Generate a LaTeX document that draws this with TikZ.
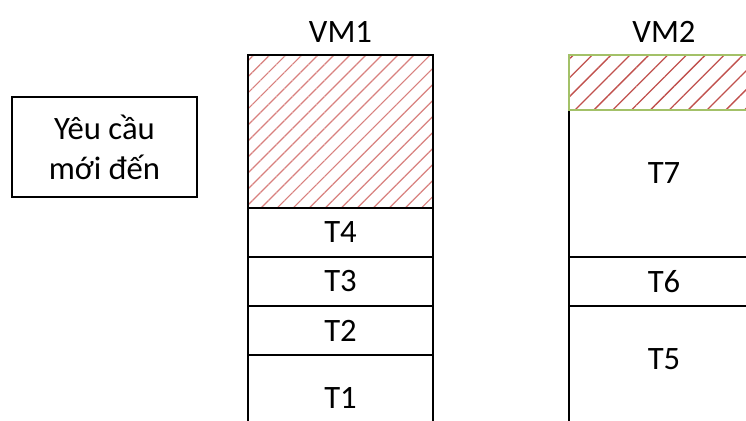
\documentclass[tikz,border=0pt]{standalone}
\usepackage{fontspec}
\setmainfont{Carlito}
\usetikzlibrary{positioning,patterns.meta}
\definecolor{hatch}{RGB}{192,80,77}
\definecolor{hatchsoft}{RGB}{216,128,126}
\definecolor{freeline}{RGB}{163,193,104}

\begin{document}
\begin{tikzpicture}[x=0.75pt,y=-0.75pt,node distance=0pt,
	font=\fontsize{24.5pt}{30pt}\selectfont,
	cell/.style={draw,line width=1.5pt,outer sep=0pt,inner sep=0pt},
	task1/.style={cell,minimum width=138.75pt},
	task2/.style={cell,minimum width=142.5pt},
	title/.style={inner sep=0pt,outer sep=0pt}]
\useasboundingbox (0,0) rectangle (746,421);
\clip (0,0) rectangle (746,421);

% request box
\node[draw,line width=1.5pt,minimum width=138.75pt,minimum height=75pt,align=center]	(req)	at (104.5,147)	{Yêu cầu\\mới đến};

% VM1, stacked from the bottom up
\node[task1,minimum height=63.75pt,anchor=north west]		(t_1)	at (248,355)		{T1};
\node[task1,minimum height=36.75pt]						(t_2)	[above=of t_1]		{T2};
\node[task1,minimum height=36.75pt]						(t_3)	[above=of t_2]		{T3};
\node[task1,minimum height=36.75pt]						(t_4)	[above=of t_3]		{T4};
\node[task1,minimum height=114.75pt,pattern={Lines[angle=45,distance=8.5pt,line width=0.9pt]},pattern color=hatchsoft]	(f_1)	[above=of t_4]	{};
\node[title]												(vm_1)	[above=9.4pt of f_1]	{VM1};

% VM2, runs off the right edge
\node[task2,minimum height=88.5pt,text depth=9pt,anchor=north west]	(t_5)	at (569,306)		{T5};
\node[task2,minimum height=36.75pt]						(t_6)	[above=of t_5]		{T6};
\node[task2,minimum height=110.25pt,text depth=16pt]	(t_7)	[above=of t_6]		{T7};
\node[task2,minimum height=41.25pt,draw=freeline,pattern={Lines[angle=45,distance=10pt,line width=1pt]},pattern color=hatch]	(f_2)	[above=of t_7]	{};
\node[title]												(vm_2)	[above=9.4pt of f_2]	{VM2};
\end{tikzpicture}
\end{document}
